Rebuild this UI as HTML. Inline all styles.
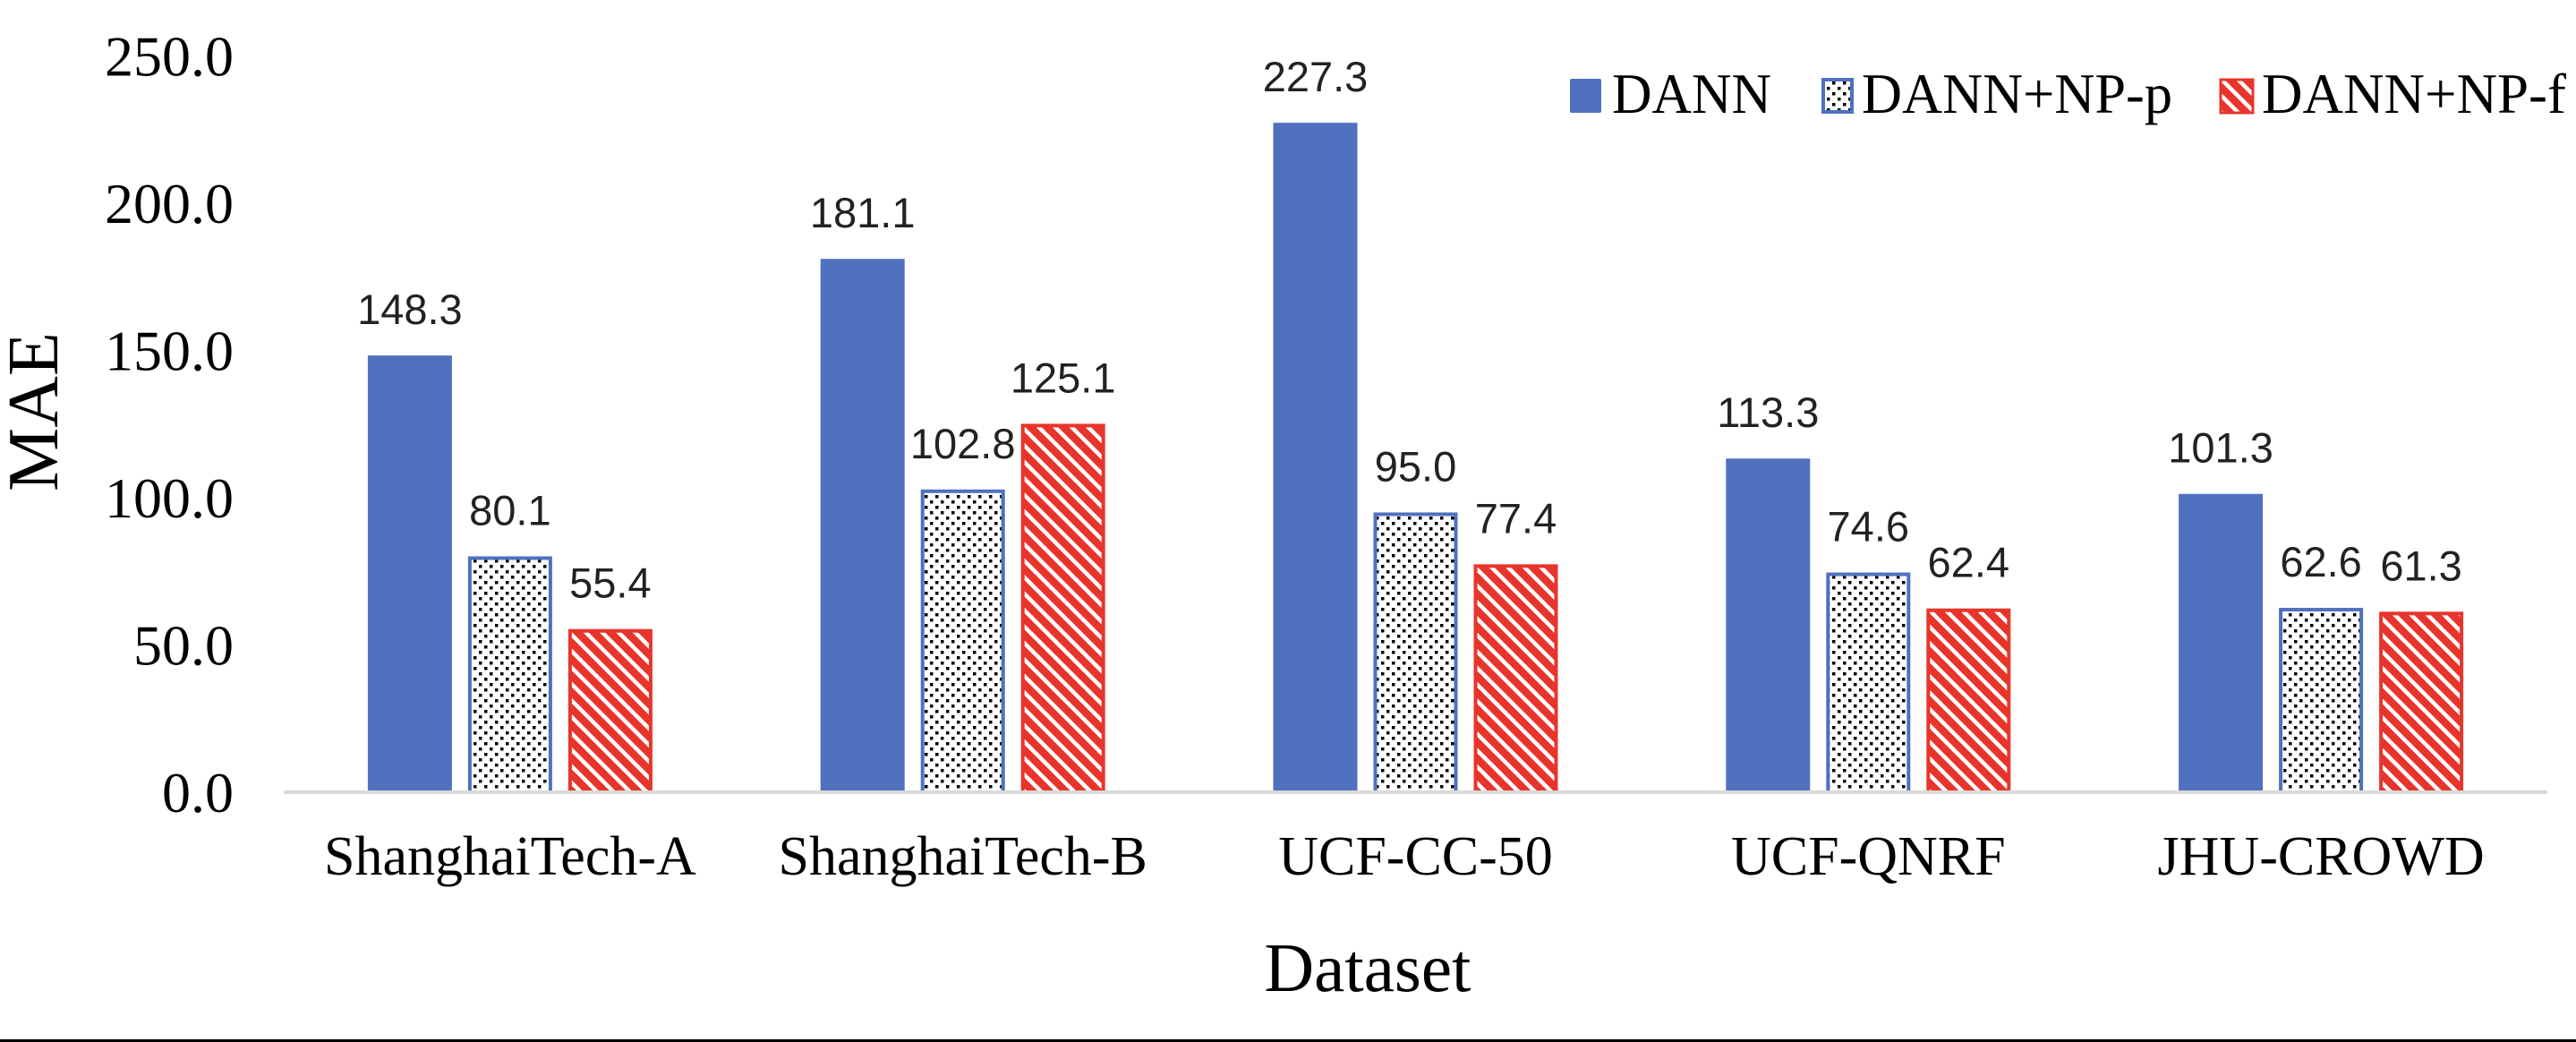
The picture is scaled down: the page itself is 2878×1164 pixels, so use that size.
<!DOCTYPE html>
<html><head><meta charset="utf-8"><style>
html,body{margin:0;padding:0;background:#fff;}
svg{display:block;}
</style></head><body>
<svg id="chart" width="2878" height="1164" viewBox="0 0 2878 1164" xmlns="http://www.w3.org/2000/svg">
<defs>
<pattern id="dots" patternUnits="userSpaceOnUse" width="12" height="12">
<rect width="12" height="12" fill="#fff"/>
<rect x="1" y="1" width="3.5" height="3.5" fill="#000"/>
<rect x="7" y="7" width="3.5" height="3.5" fill="#000"/>
</pattern>
<pattern id="hatch" patternUnits="userSpaceOnUse" width="13" height="13" patternTransform="rotate(-45)">
<rect width="13" height="13" fill="#e8352b"/>
<rect x="0" y="0" width="4.5" height="13" fill="#fff"/>
</pattern>
</defs>
<rect x="0" y="0" width="2878" height="1164" fill="#fff"/>
<rect x="0" y="1161" width="2878" height="3" fill="#000"/>
<g id="yticks"></g>
<g id="bars"></g>
<g id="labels"></g>
<line x1="317" y1="885" x2="2846" y2="885" stroke="#d9d9d9" stroke-width="4"/>
<g id="xcats"></g>
<text x="64" y="460" transform="rotate(-90 64 460)" text-anchor="middle" font-family="Liberation Serif, serif" font-size="80" fill="#000">MAE</text>
<text x="1528" y="1107" text-anchor="middle" font-family="Liberation Serif, serif" font-size="77" fill="#000">Dataset</text>
<g>
<g>
<rect x="1754" y="88" width="35" height="38" rx="2" fill="#4f71be"/>
<text x="1801" y="126" font-family="Liberation Serif, serif" font-size="64" textLength="178" lengthAdjust="spacingAndGlyphs" fill="#000">DANN</text>
</g>
<g>
<rect x="2037" y="89" width="32" height="36" fill="url(#dots)" stroke="#4f71be" stroke-width="4"/>
<text x="2080" y="126" font-family="Liberation Serif, serif" font-size="64" textLength="347" lengthAdjust="spacingAndGlyphs" fill="#000">DANN+NP-p</text>
</g>
<g>
<rect x="2481" y="89" width="36" height="37" fill="url(#hatch)" stroke="#e8352b" stroke-width="3"/>
<text x="2527" y="126" font-family="Liberation Serif, serif" font-size="64" textLength="340" lengthAdjust="spacingAndGlyphs" fill="#000">DANN+NP-f</text>
</g>
</g>
</svg>
<script>
const categories = ["ShanghaiTech-A","ShanghaiTech-B","UCF-CC-50","UCF-QNRF","JHU-CROWD"];
const dannValues = [148.3,181.1,227.3,113.3,101.3];
const npPValues = [80.1,102.8,95.0,74.6,62.6];
const npFValues = [55.4,125.1,77.4,62.4,61.3];
const yTicks = [0,50,100,150,200,250];

const NS = "http://www.w3.org/2000/svg";
const plotLeft = 317, plotRight = 2846, baseY = 885, pxPerUnit = 3.29;
const catW = (plotRight - plotLeft) / categories.length;
const barW = 94, gap = 18;
function yScale(v){ return baseY - v * pxPerUnit; }
function xCenter(i){ return plotLeft + catW * (i + 0.5); }
function mk(tag, attrs, parent){ const e = document.createElementNS(NS, tag); for (const k in attrs) e.setAttribute(k, attrs[k]); parent.appendChild(e); return e; }

const yt = document.getElementById('yticks');
yTicks.forEach(t => {
  const el = mk('text', {x: 261, y: yScale(t) + 22, 'text-anchor': 'end', 'font-family': 'Liberation Serif, serif', 'font-size': 64, fill: '#000'}, yt);
  
  
  el.textContent = t.toFixed(1);
});

const series = [
  {vals: dannValues, fill: '#4f71be', stroke: 'none', sw: 0, name: 'dann'},
  {vals: npPValues, fill: 'url(#dots)', stroke: '#4f71be', sw: 4, name: 'dann-np-p'},
  {vals: npFValues, fill: 'url(#hatch)', stroke: '#e8352b', sw: 4, name: 'dann-np-f'}
];
const bg = document.getElementById('bars');
const lg = document.getElementById('labels');
categories.forEach((c, i) => {
  const groupW = 3 * barW + 2 * gap;
  const x0 = xCenter(i) - groupW / 2;
  series.forEach((s, j) => {
    const v = s.vals[i];
    const x = x0 + j * (barW + gap);
    const top = yScale(v);
    const inset = s.sw / 2;
    const r = mk('rect', {x: x + inset, y: top + inset, width: barW - s.sw, height: baseY - top - inset, fill: s.fill, stroke: s.stroke, 'stroke-width': s.sw}, bg);
    
    
    const t = mk('text', {x: x + barW / 2, y: top - 35, 'text-anchor': 'middle', 'font-family': 'Liberation Sans, sans-serif', 'font-size': 47, fill: '#222'}, lg);
    
    
    t.textContent = v.toFixed(1);
  });
  const ct = mk('text', {x: xCenter(i), y: 977, 'text-anchor': 'middle', 'font-family': 'Liberation Serif, serif', 'font-size': 62, fill: '#000'}, document.getElementById('xcats'));
  
  
  ct.textContent = c;
});
</script>
</body></html>
